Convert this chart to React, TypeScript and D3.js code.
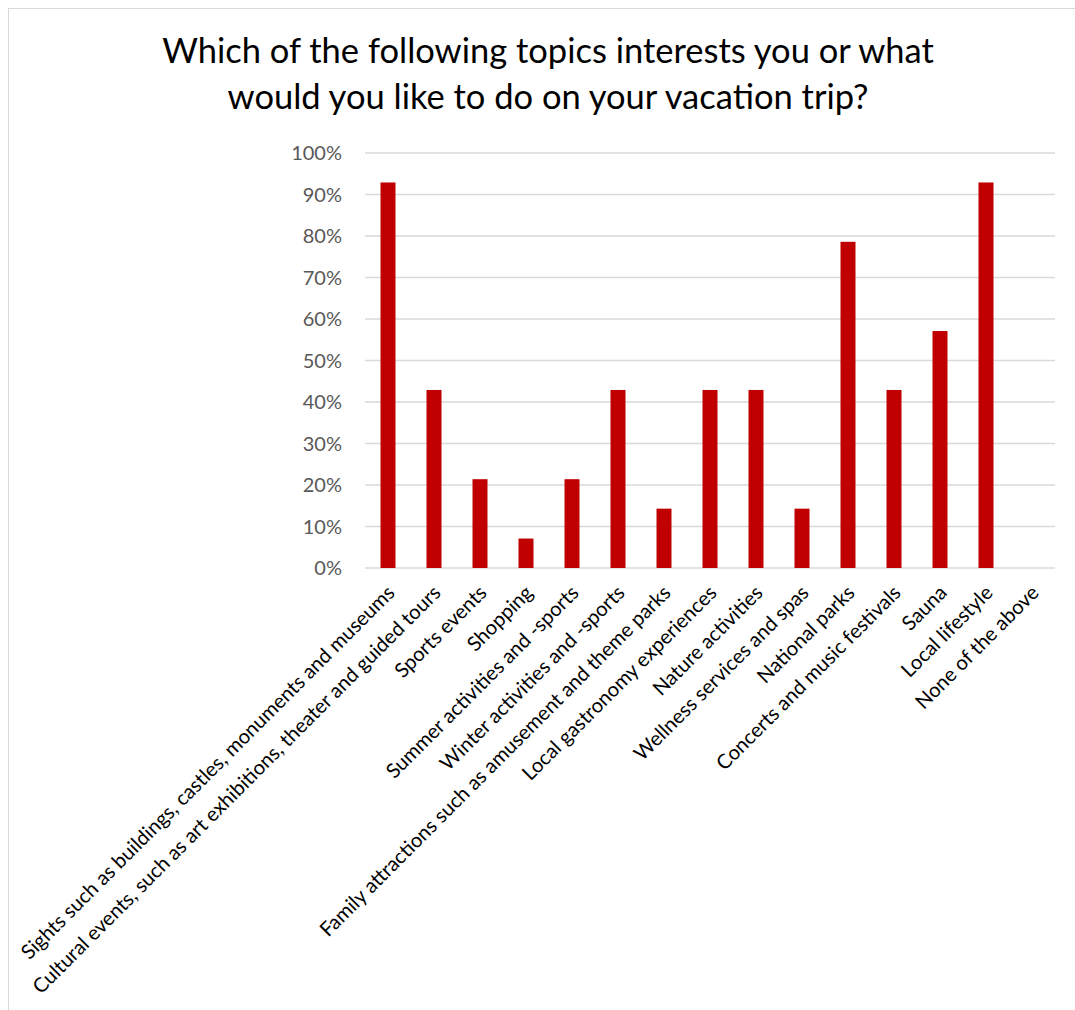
import React from "react";
import * as d3 from "d3";

const categories = [
  "Sights such as buildings, castles, monuments and museums",
  "Cultural events, such as art exhibitions, theater and guided tours",
  "Sports events",
  "Shopping",
  "Summer activities and -sports",
  "Winter activities and -sports",
  "Family attractions such as amusement and theme parks",
  "Local gastronomy experiences",
  "Nature activities",
  "Wellness services and spas",
  "National parks",
  "Concerts and music festivals",
  "Sauna",
  "Local lifestyle",
  "None of the above",
];
const values = [0.929, 0.429, 0.214, 0.071, 0.214, 0.429, 0.143, 0.429, 0.429, 0.143, 0.786, 0.429, 0.571, 0.929, 0];
const yTicks = [0, 0.1, 0.2, 0.3, 0.4, 0.5, 0.6, 0.7, 0.8, 0.9, 1.0];
const titleLines = [
  "Which of the following topics interests you or what",
  "would you like to do on your vacation trip?",
];

const W = 1075;
const H = 1010;
const left = 365;
const right = 1055;
const top = 153;
const bottom = 568;
const font = "Lato, 'Open Sans', sans-serif";

export default function App() {
  const x = d3.scaleBand<string>().domain(categories).range([left, right]).paddingInner(0.674).paddingOuter(0.337);
  const y = d3.scaleLinear().domain([0, 1]).range([bottom, top]);
  return (
    <svg width={W} height={H} style={{ position: "absolute", left: 0, top: 0 }}>
      <rect x={0} y={0} width={W} height={H} fill="#fff" />
      <rect x={8.5} y={8.5} width={W + 10} height={H + 10} fill="#fff" stroke="#d9d9d9" strokeWidth={1} />
      {titleLines.map((t, i) => (
        <text key={i} x={548} y={63 + i * 46} textAnchor="middle" fontFamily={font} fontSize={34.5} fill="#000">
          {t}
        </text>
      ))}
      {yTicks.map((t) => (
        <g key={t}>
          <line x1={left} x2={right} y1={y(t)} y2={y(t)} stroke="#d9d9d9" strokeWidth={1.3} />
          <text x={342} y={y(t)} dy="0.35em" textAnchor="end" fontFamily={font} fontSize={20} fill="#595959">
            {d3.format(".0%")(t)}
          </text>
        </g>
      ))}
      {categories.map((c, i) => (
        <rect key={c} x={x(c)} y={y(values[i])} width={x.bandwidth()} height={bottom - y(values[i])} fill="#c00000" />
      ))}
      {categories.map((c) => {
        const cx = (x(c) as number) + x.bandwidth() / 2 + 8;
        const cy = 594;
        return (
          <text key={c} x={cx} y={cy} transform={`rotate(-45 ${cx} ${cy})`} textAnchor="end" fontFamily={font} fontSize={20.2} fill="#000">
            {c}
          </text>
        );
      })}
    </svg>
  );
}
